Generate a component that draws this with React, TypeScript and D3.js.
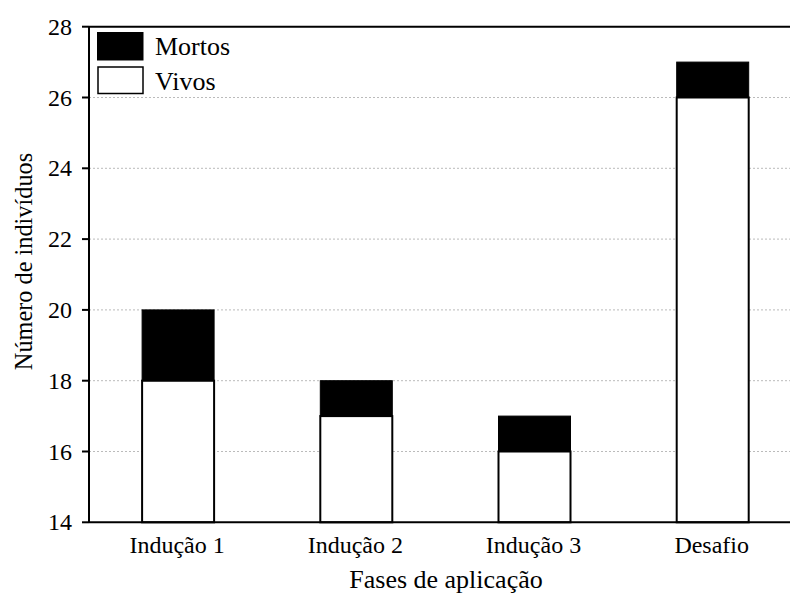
import React from "react";
import * as d3 from "d3";

const categories = ["Indução 1", "Indução 2", "Indução 3", "Desafio"];
const vivos = [18, 17, 16, 26];
const mortos = [2, 1, 1, 1];
const yTicks = [14, 16, 18, 20, 22, 24, 26, 28];
const legendLabels = ["Mortos", "Vivos"];

export default function App() {
  const W = 790, H = 599;
  const left = 89, top = 26.7, bottom = 522.3;
  const x = d3.scaleBand<string>().domain(categories).range([left, left + 4 * 178.2]).paddingInner(0.596).paddingOuter(0.298);
  const y = d3.scaleLinear().domain([14, 28]).range([bottom, top]);
  const bw = 72;
  const font = "Liberation Serif, Times New Roman, serif";
  return (
    <svg width={W} height={H} style={{ position: "absolute", left: 0, top: 0, background: "#fff", fontFamily: font }}>
      {yTicks.filter(t => t > 14 && t < 28).map(t => (
        <line key={"g" + t} x1={left} x2={W} y1={y(t)} y2={y(t)} stroke="#bbb" strokeWidth={1} strokeDasharray="2,2" />
      ))}
      {categories.map((c, i) => {
        const cx = (x(c) as number) + x.bandwidth() / 2;
        const total = vivos[i] + mortos[i];
        return (
          <g key={c}>
            <rect x={cx - bw / 2} y={y(vivos[i])} width={bw} height={y(14) - y(vivos[i])} fill="#fff" stroke="#000" strokeWidth={2} />
            <rect x={cx - bw / 2} y={y(total)} width={bw} height={y(vivos[i]) - y(total)} fill="#000" stroke="#000" strokeWidth={1} />
            <text x={cx - 1} y={553} textAnchor="middle" fontSize={24} style={{ fontFamily: font }}>{c}</text>
          </g>
        );
      })}
      <line x1={left} x2={left} y1={top} y2={bottom} stroke="#000" strokeWidth={2} />
      <line x1={left} x2={W} y1={bottom} y2={bottom} stroke="#000" strokeWidth={2} />
      <line x1={left} x2={W} y1={top} y2={top} stroke="#000" strokeWidth={2} />
      {yTicks.map(t => (
        <g key={"t" + t}>
          <line x1={left - 7} x2={left} y1={y(t)} y2={y(t)} stroke="#000" strokeWidth={2} />
          <text x={72} y={y(t) + 8} textAnchor="end" fontSize={24} style={{ fontFamily: font }}>{t}</text>
        </g>
      ))}
      <rect x={97.5} y={32.5} width={45.5} height={27.5} fill="#000" stroke="#000" strokeWidth={1} />
      <rect x={98} y={67} width={45} height={26.5} fill="#fff" stroke="#000" strokeWidth={1.5} />
      <text x={155} y={55} fontSize={26} style={{ fontFamily: font }}>{legendLabels[0]}</text>
      <text x={155} y={90} fontSize={26} style={{ fontFamily: font }}>{legendLabels[1]}</text>
      <text transform={`translate(32,261.5) rotate(-90)`} textAnchor="middle" fontSize={24.3} style={{ fontFamily: font }}>Número de indivíduos</text>
      <text x={446} y={588} textAnchor="middle" fontSize={26} style={{ fontFamily: font }}>Fases de aplicação</text>
    </svg>
  );
}
